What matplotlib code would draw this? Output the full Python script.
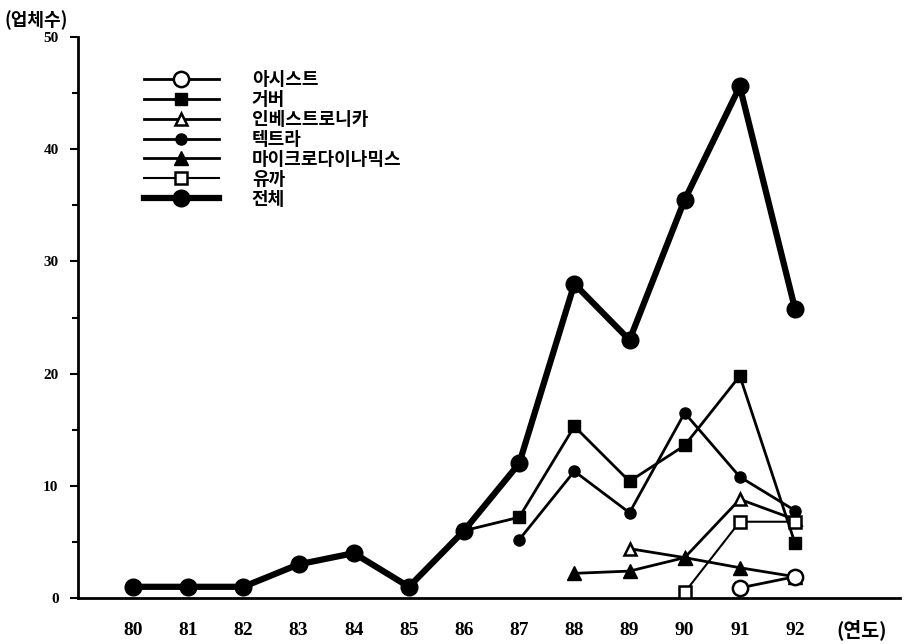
import matplotlib
matplotlib.use("Agg")
import matplotlib.pyplot as plt

plt.rcParams['font.family'] = ['Noto Sans CJK KR', 'DejaVu Sans']

# data
years_all = [80, 81, 82, 83, 84, 85, 86, 87, 88, 89, 90, 91, 92]
total = [1, 1, 1, 3, 4, 1, 6, 12, 28, 23, 35.5, 45.6, 25.8]

years_gerber = [86, 87, 88, 89, 90, 91, 92]
gerber = [6, 7.2, 15.3, 10.4, 13.6, 19.8, 4.9]

years_tektra = [87, 88, 89, 90, 91, 92]
tektra = [5.2, 11.3, 7.6, 16.5, 10.8, 7.8]

years_inverse = [89, 90, 91, 92]
inverse = [4.4, 3.6, 8.8, 7.0]

years_micro = [88, 89, 90, 91, 92]
micro = [2.2, 2.4, 3.6, 2.7, 1.9]

years_yuka = [90, 91, 92]
yuka = [0.5, 6.8, 6.8]

years_assist = [91, 92]
assist = [0.9, 1.9]

labels = ['아시스트', '거버', '인베스트로니카', '텍트라', '마이크로다이나믹스', '유까', '전체']

fig = plt.figure(figsize=(9.07, 6.44), dpi=100)
ax = fig.add_axes([0.086, 0.0714, 0.906, 0.871])

lw = 2.0
ax.plot(years_assist, assist, '-o', color='black', mfc='white', mec='black', ms=11, mew=1.8, lw=lw, label=labels[0], zorder=6)
ax.plot(years_gerber, gerber, '-s', color='black', ms=8, lw=lw, label=labels[1], zorder=4)
ax.plot(years_inverse, inverse, '-^', color='black', mfc='white', mec='black', ms=9, mew=1.8, lw=lw, label=labels[2], zorder=4)
ax.plot(years_tektra, tektra, '-o', color='black', ms=8, lw=lw, label=labels[3], zorder=4)
ax.plot(years_micro, micro, '-^', color='black', ms=10, lw=lw, label=labels[4], zorder=5)
ax.plot(years_yuka, yuka, '-s', color='black', mfc='white', mec='black', ms=8, mew=1.8, lw=1.5, label=labels[5], zorder=5)
ax.plot(years_all, total, '-o', color='black', ms=12, lw=4.5, label=labels[6], zorder=3)

ax.set_xlim(79, 93.9)
ax.set_ylim(0, 50)

ax.spines['top'].set_visible(False)
ax.spines['right'].set_visible(False)
ax.spines['left'].set_linewidth(2)
ax.spines['bottom'].set_linewidth(2)

ax.set_yticks([0, 10, 20, 30, 40, 50])
ax.set_yticks([5, 15, 25, 35, 45], minor=True)
ax.tick_params(axis='y', which='major', direction='out', length=6, width=1.5, pad=8)
ax.tick_params(axis='y', which='minor', direction='out', length=4, width=1.5)
for t in ax.get_yticklabels():
    t.set_fontfamily('Liberation Serif')
    t.set_fontweight('bold')
    t.set_fontsize(11)

ax.set_xticks(years_all)
ax.set_xticklabels([str(y) for y in years_all])
ax.tick_params(axis='x', length=0, pad=17)
for t in ax.get_xticklabels():
    t.set_fontfamily('Liberation Serif')
    t.set_fontweight('bold')
    t.set_fontsize(14)

fig.text(0.005, 0.968, '(업체수)', fontsize=13, fontweight='bold', ha='left', va='center')
fig.text(0.922, 0.022, '(연도)', fontsize=14, fontweight='bold', ha='left', va='center')

leg = ax.legend(loc='upper left', bbox_to_anchor=(0.06, 0.97), frameon=False,
                handlelength=4.2, labelspacing=0.05, handletextpad=1.8,
                prop={'size': 13, 'weight': 'bold'})

fig.savefig('out.png', dpi=100)
